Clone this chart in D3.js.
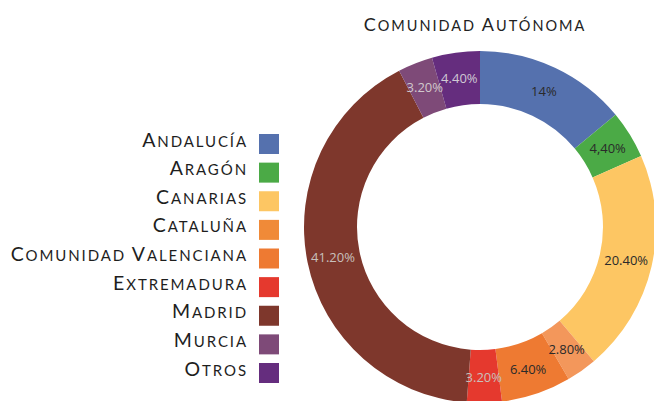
<!DOCTYPE html>
<html><head><meta charset="utf-8">
<script src="https://cdn.jsdelivr.net/npm/d3@7"></script>
<style>body{margin:0;background:#fff}svg{display:block}</style>
</head><body>
<svg id="c" width="654" height="401"></svg>
<script>
const title = "Comunidad Autónoma";
const categories = ["Andalucía","Aragón","Canarias","Cataluña","Comunidad Valenciana","Extremadura","Madrid","Murcia","Otros"];
const values = [14, 4.4, 20.4, 2.8, 6.4, 3.2, 41.2, 3.2, 4.4];
const valueLabels = ["14%","4,40%","20.40%","2.80%","6.40%","3.20%","41.20%","3.20%","4.40%"];
const colors = ["#5571AE","#4BAA46","#FDC663","#F3975B","#EE7A32","#E5392E","#7E372C","#7E4A78","#652D7E"];
const legendColors = ["#5571AE","#4BAA46","#FDC663","#F08A38","#EE7A32","#E5392E","#7E372C","#7E4A78","#652D7E"];
const labelColors = ["#2a2a2a","#2a2a2a","#2a2a2a","#2a2a2a","#2a2a2a","#c8c0bc","#c8c0bc","#d0c8cc","#d0c8d4"];

const svg = d3.select("#c");
const FONT = "Lato, 'Open Sans', sans-serif";

function smallCaps(sel, text, big, small){
  const words = text.split(" ");
  words.forEach((w,i)=>{
    if(i>0) sel.append("tspan").attr("font-size", small).text(" ");
    sel.append("tspan").attr("font-size", big).text(w[0].toUpperCase());
    sel.append("tspan").attr("font-size", small).text(w.slice(1).toUpperCase());
  });
}

// Title
const t = svg.append("text").attr("x",475).attr("y",31).attr("text-anchor","middle")
  .attr("font-family",FONT).attr("fill","#222").attr("letter-spacing",2.0);
smallCaps(t, title, 18, 14.5);

// Donut
const cx = 480, cy = 227, R = 176, r = 123;
const pie = d3.pie().sort(null).value(d=>d);
const arcs = pie(values);
const arc = d3.arc().innerRadius(r).outerRadius(R);
const labelArc = d3.arc().innerRadius(150).outerRadius(150);
const g = svg.append("g").attr("transform",`translate(${cx},${cy})`);
g.selectAll("path").data(arcs).join("path").attr("d",arc).attr("fill",(d,i)=>colors[i]);
g.selectAll("text").data(arcs).join("text")
  .attr("transform",d=>`translate(${labelArc.centroid(d)})`)
  .attr("text-anchor","middle").attr("dy","0.35em")
  .attr("font-family","'Open Sans', sans-serif").attr("font-size",13)
  .attr("fill",(d,i)=>labelColors[i])
  .text((d,i)=>valueLabels[i]);

// Legend
const ly = d3.scalePoint().domain(categories).range([144,373]);
const lg = svg.append("g");
categories.forEach((c,i)=>{
  const y = ly(c);
  lg.append("rect").attr("x",259).attr("y",y-10).attr("width",20).attr("height",20).attr("fill",legendColors[i]);
  const tx = lg.append("text").attr("x",248).attr("y",y+2.5).attr("text-anchor","end")
    .attr("font-family",FONT).attr("fill","#1e1e1e").attr("letter-spacing",1.9);
  smallCaps(tx, c, 19.5, 15);
});
</script>
</body></html>
